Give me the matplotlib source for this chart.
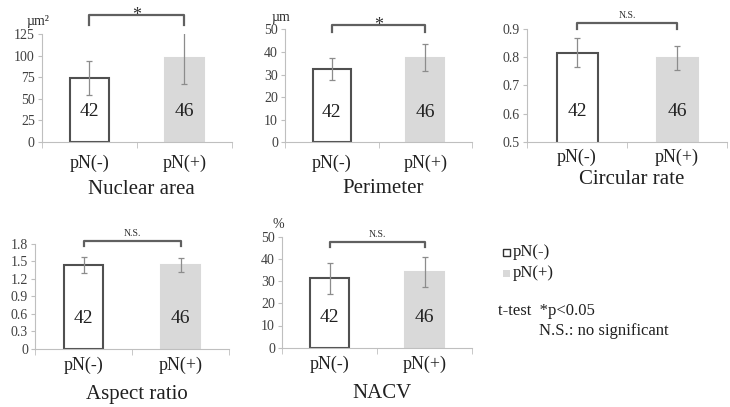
import numpy as np
import matplotlib.pyplot as plt
from matplotlib.patches import Rectangle

plt.rcParams['font.family'] = ['Liberation Serif', 'DejaVu Serif']

# Datos
groups = ['pN(-)', 'pN(+)']
counts = [42, 46]
titles = ['Nuclear area', 'Perimeter', 'Circular rate', 'Aspect ratio', 'NACV']
units = ['µm²', 'µm', '', '', '%']
means = [[74, 97], [32.5, 37.5], [0.816, 0.798], [1.44, 1.43], [31.3, 34.0]]
sds = [[20, 30], [5.0, 6.0], [0.051, 0.042], [0.14, 0.12], [7.0, 6.7]]
signif = ['*', '*', 'N.S.', 'N.S.', 'N.S.']
ylims = [(0, 125), (0, 50), (0.5, 0.9), (0, 1.8), (0, 50)]
ysteps = [25, 10, 0.1, 0.3, 10]

W, H = 730, 407
fig = plt.figure(figsize=(W / 100, H / 100), dpi=100)

# cajas en pixeles: izquierda, derecha, y del cero, y del maximo
boxes = [(41.7, 231.7, 142, 34), (285, 472, 142.3, 29.3), (527, 727, 141.7, 29),
         (35, 229, 348.7, 243.7), (282, 472, 347.7, 236.7)]
bracket_px = [(15, 25), (25, 32), (23, 29), (241, 246.5), (242, 247)]
title_y = [190, 188, 180, 395, 393]
xpad = [9, 9, 5, 6, 6]
count_px = 30

tick_col = '#404040'
x = np.arange(len(groups))

for i in range(5):
    l, r, y0, y1 = boxes[i]
    ax = fig.add_axes([l / W, 1 - y0 / H, (r - l) / W, (y0 - y1) / H])
    lo, hi = ylims[i]
    ax.bar(x, means[i], width=0.41, color=['white', '#d9d9d9'],
           edgecolor=['#505050', '#d9d9d9'], linewidth=1.5)
    ax.errorbar(x, means[i], yerr=sds[i], fmt='none', ecolor='#8c8c8c',
                elinewidth=0.9, capsize=2.5, capthick=0.9)
    ax.set_xlim(-0.5, 1.5)
    ax.set_ylim(lo, hi)
    yt = np.round(np.arange(lo, hi + ysteps[i] / 2, ysteps[i]), 2)
    ax.set_yticks(yt)
    ax.set_yticklabels([('%g' % v) for v in yt], fontsize=10, color=tick_col)
    ax.set_xticks(x)
    ax.set_xticklabels(groups, fontsize=13, color='#202020')
    ax.set_xticks([-0.5, 0.5, 1.5], minor=True)
    ax.tick_params(axis='x', which='major', length=0, pad=xpad[i])
    ax.tick_params(axis='x', which='minor', length=4, color='#bfbfbf', direction='out')
    ax.tick_params(axis='y', length=3, color='#bfbfbf', pad=2)
    for s in ['top', 'right']:
        ax.spines[s].set_visible(False)
    ax.spines['left'].set_color('#bfbfbf')
    ax.spines['bottom'].set_color('#bfbfbf')

    # numero de casos dentro de las barras
    ypos = lo + (hi - lo) * count_px / (y0 - y1)
    for xi, n in zip(x, counts):
        ax.text(xi, ypos, str(n), ha='center', va='center', fontsize=14, color='#202020')

    # corchete de significancia
    bt, bb = bracket_px[i]
    ybt = lo + (hi - lo) * (y0 - bt) / (y0 - y1)
    ybb = lo + (hi - lo) * (y0 - bb) / (y0 - y1)
    ax.plot([0, 0, 1, 1], [ybb, ybt, ybt, ybb], color='#606060', lw=1.6,
            clip_on=False, solid_joinstyle='round')
    if signif[i] == '*':
        ax.text(0.5, ybt, '*', ha='center', va='center', fontsize=13, color='#303030')
    else:
        ax.text(0.5, ybt + (hi - lo) * 0.03, 'N.S.', ha='center', va='bottom',
                fontsize=7, color='#303030')

    # titulo y unidades
    fig.text(((l + r) / 2 + 5) / W, 1 - title_y[i] / H, titles[i], ha='center',
             va='center', fontsize=15, color='#202020')
    if units[i]:
        fig.text((l - 4) / W, 1 - (y1 - 12) / H, units[i], ha='center', va='center',
                 fontsize=10, color='#303030')

# leyenda y notas
fig.add_artist(Rectangle((503 / W, 1 - 256 / H), 7 / W, 7 / H, facecolor='white',
                         edgecolor='#303030', linewidth=1.0, transform=fig.transFigure))
fig.text(513 / W, 1 - 252 / H, 'pN(-)', ha='left', va='center', fontsize=12, color='#202020')
fig.add_artist(Rectangle((503 / W, 1 - 277 / H), 7 / W, 7 / H, facecolor='#d9d9d9',
                         edgecolor='none', transform=fig.transFigure))
fig.text(513 / W, 1 - 273 / H, 'pN(+)', ha='left', va='center', fontsize=12, color='#202020')
fig.text(498 / W, 1 - 311 / H, 't-test  *p<0.05', ha='left', va='center', fontsize=12,
         color='#202020')
fig.text(539 / W, 1 - 331 / H, 'N.S.: no significant', ha='left', va='center',
         fontsize=12, color='#202020')

plt.savefig('out.png', dpi=100)
